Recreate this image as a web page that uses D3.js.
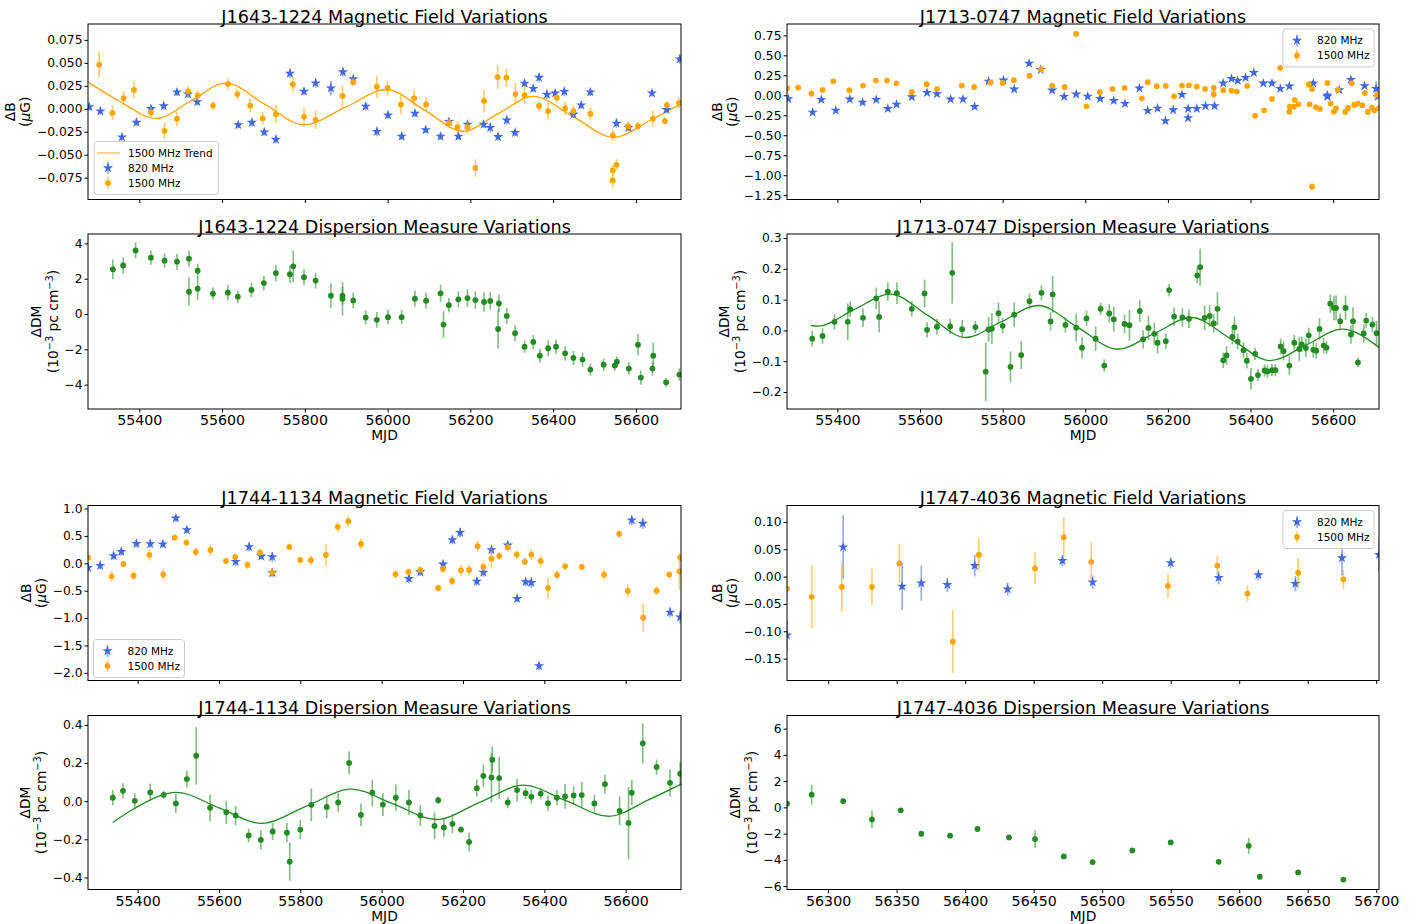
<!DOCTYPE html>
<html>
<head>
<meta charset="utf-8">
<script src="https://cdn.jsdelivr.net/npm/d3@7"></script>
<style>
  body { margin: 0; background: #fff; }
  text { font-family: "DejaVu Sans", sans-serif; }
</style>
</head>
<body>
<svg id="fig" width="1422" height="924"></svg>
<script>
// ---------- data: [MJD, value, error] ----------
const J1643_B820 = [[55279,0.002,0.004],[55306,-0.0025,0.004],[55358,-0.031,0.004],[55393,-0.015,0.004],[55428,0.000,0.004],[55459,0.003,0.004],[55491,0.018,0.004],[55518,0.016,0.004],[55540,0.0075,0.004],[55639,-0.0175,0.004],[55672,-0.015,0.004],[55702,-0.0255,0.004],[55730,-0.0335,0.004],[55764,0.0385,0.005],[55798,0.019,0.004],[55826,0.028,0.005],[55863,0.0225,0.008],[55892,0.040,0.005],[55917,0.0325,0.004],[55947,0.0025,0.004],[55974,-0.025,0.005],[56001,-0.007,0.004],[56034,-0.030,0.004],[56066,-0.005,0.004],[56092,-0.023,0.004],[56128,-0.030,0.004],[56148,-0.014,0.004],[56171,-0.030,0.004],[56193,-0.017,0.004],[56232,-0.017,0.004],[56248,-0.0205,0.005],[56267,-0.0305,0.004],[56288,-0.0125,0.005],[56308,-0.026,0.004],[56331,0.0277,0.004],[56352,0.022,0.004],[56366,0.034,0.005],[56385,0.0155,0.005],[56405,0.017,0.004],[56427,0.0187,0.005],[56449,-0.006,0.004],[56468,0.004,0.004],[56490,0.018,0.004],[56553,-0.016,0.005],[56582,-0.0205,0.004],[56639,0.017,0.004],[56674,-0.001,0.004],[56706,0.054,0.005]];
const J1643_B1500 = [[55303,0.048,0.014],[55335,-0.0045,0.008],[55362,0.0115,0.008],[55387,0.0205,0.009],[55428,-0.004,0.006],[55461,-0.024,0.009],[55491,-0.011,0.008],[55518,0.019,0.006],[55541,0.0145,0.006],[55578,0.0035,0.005],[55614,0.027,0.006],[55637,0.016,0.006],[55668,0.0035,0.007],[55698,-0.0105,0.007],[55730,-0.006,0.010],[55771,0.0265,0.008],[55798,-0.0085,0.010],[55826,-0.012,0.010],[55891,0.014,0.012],[55917,0.029,0.005],[55974,0.024,0.012],[56000,0.0227,0.008],[56032,0.0047,0.010],[56064,0.0115,0.009],[56093,0.0047,0.008],[56148,-0.0155,0.005],[56169,-0.020,0.006],[56193,-0.020,0.007],[56212,-0.0645,0.010],[56233,0.0086,0.012],[56266,0.0345,0.013],[56287,0.0338,0.010],[56309,0.016,0.012],[56331,0.0148,0.010],[56366,0.003,0.006],[56388,-0.0025,0.009],[56409,0.012,0.005],[56429,0.0004,0.007],[56449,-0.0025,0.006],[56490,-0.0054,0.007],[56544,-0.029,0.006],[56544,-0.067,0.006],[56544,-0.078,0.008],[56553,-0.061,0.006],[56581,-0.019,0.005],[56605,-0.019,0.005],[56641,-0.0108,0.009],[56670,-0.0133,0.004],[56675,0.004,0.004],[56704,0.0065,0.006]];
// 1500 MHz trend curve, sampled at its turning points and midpoints: [MJD, value]
const J1643_B1500_TREND = [[55276,0.029],[55349,0.009],[55441,-0.0105],[55526,0.009],[55609,0.028],[55703,0.005],[55798,-0.0175],[55898,0.0018],[55998,0.021],[56090,-0.0018],[56182,-0.0245],[56266,-0.0055],[56352,0.0135],[56449,-0.0088],[56546,-0.031],[56637,-0.012],[56708,0.005]];
const J1643_DM = [[55336,2.53,0.55],[55361,2.75,0.45],[55391,3.6,0.45],[55428,3.19,0.4],[55461,3.02,0.4],[55491,2.96,0.45],[55520,3.13,0.45],[55520,1.26,0.8],[55541,2.45,0.4],[55541,1.43,0.65],[55578,1.15,0.35],[55614,1.21,0.45],[55638,0.98,0.35],[55671,1.36,0.4],[55701,1.75,0.4],[55730,2.32,0.45],[55764,2.25,0.5],[55772,2.7,0.9],[55798,2.08,0.45],[55826,1.89,0.45],[55863,1.04,0.7],[55891,1.04,0.5],[55891,0.87,0.95],[55917,0.77,0.45],[55947,-0.2,0.4],[55974,-0.33,0.45],[56001,-0.18,0.4],[56034,-0.18,0.4],[56066,0.87,0.45],[56093,0.75,0.45],[56128,1.17,0.5],[56135,-0.6,0.75],[56148,0.5,0.4],[56171,0.83,0.45],[56193,0.9,0.5],[56212,0.79,0.5],[56233,0.68,0.55],[56248,0.74,0.5],[56269,0.6,0.5],[56267,-0.85,1.1],[56288,-0.11,0.45],[56308,-1.09,0.45],[56331,-1.85,0.35],[56352,-1.58,0.4],[56368,-2.36,0.4],[56388,-1.94,0.45],[56407,-1.85,0.4],[56429,-2.23,0.4],[56449,-2.49,0.4],[56471,-2.58,0.4],[56490,-3.15,0.35],[56522,-2.87,0.35],[56549,-2.92,0.3],[56554,-2.7,0.3],[56583,-3.09,0.35],[56605,-1.74,0.6],[56612,-3.6,0.4],[56640,-3.09,0.4],[56642,-2.36,0.75],[56673,-3.87,0.25],[56705,-3.43,0.35]];

const J1713_B820 = [[55281,-0.046,0.02],[55340,-0.213,0.03],[55361,-0.054,0.02],[55396,-0.188,0.02],[55430,-0.05,0.02],[55461,-0.088,0.02],[55494,-0.054,0.02],[55522,-0.167,0.03],[55543,-0.113,0.03],[55580,-0.021,0.02],[55617,0.033,0.02],[55641,0.017,0.02],[55674,-0.05,0.02],[55704,-0.05,0.02],[55732,-0.142,0.02],[55766,0.175,0.02],[55802,0.188,0.02],[55828,0.075,0.02],[55864,0.40,0.03],[55892,0.321,0.03],[55920,0.063,0.02],[55949,-0.017,0.02],[55978,0.013,0.02],[56006,-0.013,0.02],[56036,-0.042,0.02],[56069,-0.067,0.02],[56096,-0.104,0.02],[56131,0.088,0.02],[56151,-0.192,0.02],[56175,-0.163,0.02],[56194,-0.321,0.02],[56213,-0.184,0.02],[56234,0.008,0.02],[56249,-0.167,0.02],[56249,-0.284,0.03],[56270,-0.167,0.02],[56291,-0.134,0.02],[56313,-0.134,0.02],[56334,0.150,0.02],[56354,0.209,0.02],[56369,0.184,0.02],[56388,0.221,0.02],[56408,0.284,0.02],[56431,0.150,0.02],[56452,0.150,0.02],[56472,0.083,0.02],[56494,0.113,0.02],[56552,0.150,0.02],[56586,0.000,0.02],[56586,-0.017,0.02],[56615,0.067,0.02],[56643,0.196,0.02],[56676,0.117,0.02],[56704,0.083,0.1],[56708,-0.017,0.02]];
const J1713_B1500 = [[55278,0.088,0.015],[55305,0.096,0.015],[55337,0.021,0.05],[55364,0.067,0.02],[55390,0.175,0.015],[55429,0.063,0.02],[55462,0.121,0.02],[55493,0.184,0.015],[55520,0.184,0.015],[55543,0.150,0.015],[55580,0.038,0.02],[55616,0.138,0.015],[55641,0.079,0.02],[55701,0.121,0.015],[55731,0.104,0.015],[55771,0.159,0.015],[55800,0.154,0.015],[55827,0.188,0.015],[55865,0.246,0.015],[55893,0.326,0.015],[55920,0.121,0.015],[55950,0.104,0.015],[55978,0.768,0.015],[56003,-0.138,0.015],[56035,0.038,0.02],[56066,0.079,0.015],[56095,0.092,0.015],[56137,-0.038,0.015],[56151,0.163,0.015],[56173,0.113,0.015],[56195,0.117,0.015],[56215,-0.013,0.02],[56234,0.121,0.015],[56251,0.125,0.015],[56270,0.108,0.015],[56290,0.079,0.015],[56311,0.092,0.015],[56311,0.013,0.05],[56334,0.063,0.015],[56354,0.058,0.015],[56367,0.046,0.015],[56392,0.117,0.015],[56411,-0.255,0.015],[56433,-0.188,0.015],[56452,-0.046,0.015],[56472,0.342,0.015],[56494,-0.205,0.02],[56495,-0.142,0.015],[56505,-0.142,0.015],[56507,-0.058,0.015],[56516,-0.113,0.015],[56541,0.134,0.015],[56543,-0.113,0.015],[56549,0.079,0.015],[56549,-1.144,0.04],[56558,-0.15,0.015],[56568,-0.171,0.015],[56586,0.154,0.015],[56594,-0.104,0.015],[56602,-0.205,0.015],[56607,-0.163,0.015],[56611,0.067,0.015],[56629,-0.209,0.015],[56636,-0.159,0.015],[56645,0.150,0.015],[56651,-0.121,0.015],[56660,-0.104,0.015],[56671,-0.125,0.015],[56677,0.029,0.015],[56684,-0.209,0.015],[56694,-0.154,0.015],[56700,-0.188,0.015],[56706,0.004,0.015],[56711,-0.163,0.015]];
const J1713_DM = [[55339,-0.027,0.025],[55364,-0.018,0.025],[55393,0.028,0.025],[55425,0.028,0.06],[55431,0.069,0.025],[55462,0.041,0.03],[55494,0.104,0.035],[55501,0.044,0.05],[55522,0.126,0.03],[55544,0.121,0.035],[55580,0.070,0.025],[55611,0.120,0.045],[55617,0.002,0.025],[55641,0.012,0.025],[55673,0.013,0.025],[55678,0.187,0.1],[55702,0.004,0.03],[55734,0.011,0.02],[55759,-0.134,0.095],[55766,0.003,0.04],[55774,0.006,0.05],[55790,0.056,0.035],[55800,0.015,0.025],[55819,-0.118,0.05],[55828,0.051,0.04],[55845,-0.080,0.045],[55865,0.095,0.025],[55894,0.122,0.025],[55916,0.029,0.03],[55921,0.117,0.06],[55952,0.018,0.025],[55978,0.009,0.045],[55992,-0.056,0.035],[56003,0.039,0.025],[56025,-0.027,0.04],[56037,0.070,0.02],[56046,-0.114,0.02],[56058,0.055,0.03],[56069,0.036,0.04],[56095,0.021,0.03],[56107,0.017,0.05],[56132,0.063,0.035],[56140,-0.029,0.03],[56153,0.008,0.04],[56167,-0.011,0.035],[56175,-0.040,0.035],[56195,-0.035,0.025],[56203,0.131,0.02],[56215,0.045,0.03],[56235,0.042,0.03],[56251,0.038,0.03],[56271,0.179,0.025],[56278,0.205,0.06],[56289,0.041,0.04],[56301,0.047,0.035],[56311,0.023,0.03],[56320,0.070,0.055],[56334,-0.097,0.025],[56342,-0.081,0.03],[56356,-0.021,0.025],[56361,0.010,0.035],[56369,-0.036,0.025],[56383,-0.064,0.025],[56391,-0.098,0.025],[56401,-0.157,0.035],[56411,-0.076,0.02],[56418,-0.145,0.02],[56434,-0.130,0.02],[56441,-0.133,0.02],[56452,-0.129,0.02],[56460,-0.129,0.02],[56473,-0.052,0.025],[56480,-0.067,0.03],[56494,-0.114,0.03],[56506,-0.040,0.025],[56518,-0.060,0.04],[56524,-0.045,0.025],[56534,-0.057,0.03],[56541,-0.016,0.025],[56552,-0.063,0.025],[56559,-0.066,0.025],[56567,0.005,0.035],[56577,-0.049,0.025],[56584,-0.056,0.02],[56593,0.087,0.03],[56602,0.073,0.04],[56607,0.073,0.04],[56617,0.030,0.025],[56630,0.073,0.04],[56643,-0.013,0.03],[56648,0.030,0.045],[56660,-0.104,0.015],[56674,-0.010,0.03],[56680,0.032,0.025],[56695,0.019,0.025],[56705,-0.009,0.04]];
const J1713_DM_TREND = [[55336,0.016],[55354,0.014],[55438,0.066],[55528,0.118],[55620,0.048],[55710,-0.023],[55798,0.029],[55886,0.081],[55982,0.010],[56078,-0.061],[56167,-0.010],[56257,0.042],[56353,-0.028],[56448,-0.098],[56535,-0.047],[56622,0.004],[56711,-0.055]];

const J1744_B820 = [[55278,-0.079,0.07],[55308,-0.043,0.07],[55341,0.134,0.07],[55360,0.213,0.08],[55397,0.360,0.07],[55431,0.354,0.07],[55462,0.348,0.07],[55494,0.823,0.06],[55521,0.610,0.06],[55641,0.030,0.08],[55674,0.299,0.08],[55704,0.128,0.06],[55731,0.116,0.09],[55731,-0.177,0.08],[56067,-0.281,0.08],[56095,-0.159,0.07],[56151,-0.018,0.07],[56174,0.427,0.08],[56193,0.561,0.09],[56234,-0.329,0.08],[56250,-0.165,0.08],[56270,0.244,0.07],[56310,0.329,0.08],[56333,-0.646,0.07],[56354,-0.341,0.08],[56368,-0.354,0.1],[56387,-1.872,0.08],[56615,0.787,0.09],[56642,0.726,0.1],[56709,-0.896,0.09],[56734,-0.982,0.12]];
const J1744_B1500 = [[55278,0.104,0.06],[55336,-0.238,0.1],[55365,-0.012,0.06],[55390,-0.226,0.08],[55429,0.152,0.1],[55463,-0.201,0.1],[55491,0.470,0.06],[55520,0.378,0.06],[55543,0.207,0.08],[55579,0.244,0.1],[55617,0.043,0.06],[55640,0.116,0.06],[55670,-0.030,0.07],[55701,0.195,0.06],[55731,-0.165,0.07],[55773,0.299,0.06],[55800,0.061,0.06],[55826,0.055,0.09],[55863,0.152,0.2],[55892,0.665,0.1],[55918,0.768,0.1],[55949,0.354,0.1],[56034,-0.201,0.08],[56066,-0.159,0.07],[56095,-0.122,0.06],[56139,-0.451,0.06],[56151,-0.104,0.07],[56173,-0.323,0.08],[56195,-0.128,0.1],[56215,-0.122,0.1],[56236,0.311,0.1],[56250,-0.067,0.1],[56270,0.085,0.18],[56289,0.134,0.07],[56310,0.293,0.07],[56332,0.159,0.08],[56352,0.030,0.07],[56368,0.159,0.1],[56391,0.043,0.1],[56409,-0.451,0.2],[56431,-0.213,0.08],[56451,-0.055,0.06],[56492,-0.067,0.06],[56547,-0.207,0.1],[56584,0.537,0.07],[56605,-0.506,0.12],[56643,-0.994,0.25],[56676,-0.500,0.08],[56707,-0.207,0.06],[56732,-0.152,0.33],[56734,0.104,0.06]];
const J1744_DM = [[55339,0.018,0.04],[55364,0.054,0.04],[55393,0.002,0.04],[55431,0.046,0.045],[55464,0.033,0.02],[55494,-0.012,0.05],[55521,0.116,0.045],[55544,0.238,0.15],[55578,-0.035,0.07],[55618,-0.058,0.06],[55641,-0.075,0.05],[55673,-0.180,0.035],[55703,-0.203,0.05],[55732,-0.159,0.045],[55767,-0.165,0.05],[55774,-0.317,0.1],[55800,-0.149,0.05],[55827,-0.019,0.085],[55865,-0.030,0.06],[55893,-0.007,0.05],[55920,0.200,0.06],[55949,-0.072,0.06],[55977,0.044,0.07],[56003,-0.018,0.06],[56035,0.018,0.07],[56067,-0.007,0.065],[56095,-0.075,0.055],[56130,-0.130,0.07],[56139,0.005,0.02],[56153,-0.138,0.05],[56174,-0.119,0.05],[56195,-0.149,0.015],[56215,-0.214,0.05],[56234,0.068,0.045],[56250,0.133,0.06],[56270,0.124,0.13],[56272,0.217,0.07],[56289,0.121,0.11],[56310,-0.007,0.03],[56333,0.058,0.06],[56354,0.042,0.03],[56368,0.023,0.035],[56391,0.040,0.03],[56409,-0.011,0.04],[56431,0.018,0.04],[56451,0.025,0.065],[56472,0.030,0.05],[56492,0.032,0.07],[56523,-0.012,0.045],[56549,0.089,0.05],[56585,-0.051,0.075],[56607,-0.114,0.19],[56615,0.044,0.065],[56642,0.303,0.105],[56676,0.179,0.04],[56709,0.096,0.07],[56734,0.144,0.06]];
const J1744_DM_TREND = [[55339,-0.112],[55391,-0.04],[55496,0.046],[55600,-0.035],[55705,-0.116],[55815,-0.026],[55925,0.063],[56030,-0.016],[56134,-0.096],[56241,-0.006],[56349,0.084],[56453,0.0025],[56558,-0.079],[56657,0.008],[56736,0.089]];

const J1747_B820 = [[56270,-0.107,0.028],[56311,0.054,0.058],[56354,-0.018,0.043],[56368,-0.012,0.032],[56387,-0.015,0.013],[56407,0.020,0.02],[56431,-0.023,0.012],[56471,0.029,0.01],[56493,-0.010,0.012],[56550,0.025,0.01],[56585,-0.002,0.012],[56614,0.003,0.01],[56641,-0.013,0.014],[56675,0.034,0.032],[56702,0.040,0.03]];
const J1747_B1500 = [[56270,-0.022,0.02],[56288,-0.037,0.058],[56310,-0.019,0.045],[56332,-0.019,0.033],[56352,0.024,0.036],[56391,-0.119,0.057],[56410,0.040,0.029],[56451,0.015,0.029],[56472,0.072,0.037],[56492,0.027,0.036],[56548,-0.017,0.022],[56584,0.020,0.017],[56606,-0.031,0.015],[56643,0.007,0.027],[56676,-0.005,0.017]];
const J1747_DM = [[56270,0.28,0.25],[56288,0.97,0.75],[56311,0.48,0.2],[56332,-0.92,0.65],[56353,-0.23,0.15],[56368,-2.01,0.15],[56389,-2.16,0.15],[56409,-1.65,0.15],[56432,-2.29,0.15],[56451,-2.42,0.65],[56472,-3.74,0.15],[56493,-4.17,0.15],[56522,-3.28,0.15],[56550,-2.67,0.15],[56585,-4.15,0.15],[56607,-2.93,0.6],[56615,-5.29,0.15],[56643,-4.96,0.15],[56676,-5.5,0.15]];

// ---------- ticks ----------
const MJD_TICKS_WIDE = [55400, 55600, 55800, 56000, 56200, 56400, 56600];
const MJD_TICKS_J1747 = [56300, 56350, 56400, 56450, 56500, 56550, 56600, 56650, 56700];
const TICKS_J1643_B = [-0.075, -0.05, -0.025, 0, 0.025, 0.05, 0.075];
const TICKS_J1643_DM = [-4, -2, 0, 2, 4];
const TICKS_J1713_B = [-1.25, -1.0, -0.75, -0.5, -0.25, 0, 0.25, 0.5, 0.75];
const TICKS_J1713_DM = [-0.2, -0.1, 0, 0.1, 0.2, 0.3];
const TICKS_J1744_B = [-2.0, -1.5, -1.0, -0.5, 0, 0.5, 1.0];
const TICKS_J1744_DM = [-0.4, -0.2, 0, 0.2, 0.4];
const TICKS_J1747_B = [-0.15, -0.1, -0.05, 0, 0.05, 0.1];
const TICKS_J1747_DM = [-6, -4, -2, 0, 2, 4, 6];

// ---------- styling ----------
const BLUE = "#4169e1", ORANGE = "#ffa500", GREEN = "#228b22";
const XTICK_FONT = 14.2, YTICK_FONT = 12.3, TITLE_FONT = 17.6, LABEL_FONT = 13.8, LEGEND_FONT = 10.5;
const STAR_SIZE = 33, DOT_R = 2.9;

const svg = d3.select("#fig");
let clipCount = 0;

function marker(sel, type, color, cx, cy) {
  if (type === "star") {
    sel.append("path").attr("d", d3.symbol(d3.symbolStar, STAR_SIZE)())
      .attr("transform", `translate(${cx},${cy})`).attr("fill", color);
  } else {
    sel.append("circle").attr("cx", cx).attr("cy", cy).attr("r", DOT_R).attr("fill", color);
  }
}

function drawPanel(p) {
  const g = svg.append("g");
  const x = d3.scaleLinear().domain(p.xDomain).range([p.left, p.right]);
  const y = d3.scaleLinear().domain(p.yDomain).range([p.bottom, p.top]);

  const cid = "clip" + (clipCount++);
  g.append("clipPath").attr("id", cid).append("rect")
    .attr("x", p.left).attr("y", p.top)
    .attr("width", p.right - p.left).attr("height", p.bottom - p.top);
  const plot = g.append("g").attr("clip-path", `url(#${cid})`);

  (p.trends || []).forEach(t => {
    plot.append("path").datum(t.data)
      .attr("fill", "none").attr("stroke", t.color).attr("stroke-width", 1.3)
      .attr("d", d3.line().x(d => x(d[0])).y(d => y(d[1])).curve(d3.curveMonotoneX));
  });

  p.series.forEach(s => {
    plot.append("g").selectAll("line").data(s.data).join("line")
      .attr("x1", d => x(d[0])).attr("x2", d => x(d[0]))
      .attr("y1", d => y(d[1] - d[2])).attr("y2", d => y(d[1] + d[2]))
      .attr("stroke", s.color).attr("stroke-width", 1.7).attr("stroke-opacity", 0.55);
    const mg = plot.append("g");
    s.data.forEach(d => marker(mg, s.type, s.color, x(d[0]), y(d[1])));
  });

  // axes
  const xAxis = d3.axisBottom(x).tickValues(p.xTicks).tickSize(3.5).tickPadding(2.5)
    .tickFormat(p.xLabels ? d3.format("d") : () => "");
  const gx = g.append("g").attr("transform", `translate(0,${p.bottom})`).call(xAxis);
  const yAxis = d3.axisLeft(y).tickValues(p.yTicks).tickSize(3.5).tickPadding(2)
    .tickFormat(d3.format(p.yFmt));
  const gy = g.append("g").attr("transform", `translate(${p.left},0)`).call(yAxis);
  [gx, gy].forEach((a, i) => {
    a.select(".domain").remove();
    a.selectAll(".tick line").attr("stroke", "#000").attr("stroke-width", 1);
    a.selectAll(".tick text").attr("font-size", i === 0 ? XTICK_FONT : YTICK_FONT)
      .attr("font-family", "DejaVu Sans").attr("fill", "#000");
  });

  g.append("rect").attr("x", p.left).attr("y", p.top)
    .attr("width", p.right - p.left).attr("height", p.bottom - p.top)
    .attr("fill", "none").attr("stroke", "#000").attr("stroke-width", 1);

  g.append("text").attr("x", (p.left + p.right) / 2).attr("y", p.top - 1.2)
    .attr("text-anchor", "middle").attr("font-size", TITLE_FONT).text(p.title);

  // y label (two lines), placed just left of the tick labels
  const tickLeft = p.left + gy.node().getBBox().x;
  const cy = (p.top + p.bottom) / 2;
  const base2 = tickLeft - 6.5;
  const base1 = base2 - (p.kind === "B" ? 15.3 : 16.5);
  g.append("text").attr("transform", `translate(${base1},${cy}) rotate(-90)`)
    .attr("text-anchor", "middle").attr("font-size", LABEL_FONT)
    .text(p.kind === "B" ? "ΔB" : "ΔDM");
  const l2 = g.append("text").attr("transform", `translate(${base2},${cy}) rotate(-90)`)
    .attr("text-anchor", "middle").attr("font-size", LABEL_FONT);
  if (p.kind === "B") {
    l2.append("tspan").text("(");
    l2.append("tspan").attr("font-style", "italic").text("μ");
    l2.append("tspan").text("G)");
  } else {
    l2.append("tspan").text("(10");
    l2.append("tspan").attr("dy", -5).attr("font-size", 9.8).text("−3");
    l2.append("tspan").attr("dy", 5).text(" pc cm");
    l2.append("tspan").attr("dy", -5).attr("font-size", 9.8).text("−3");
    l2.append("tspan").attr("dy", 5).text(")");
  }

  if (p.xLabels) {
    g.append("text").attr("x", (p.left + p.right) / 2).attr("y", p.bottom + 31)
      .attr("text-anchor", "middle").attr("font-size", LABEL_FONT).text("MJD");
  }

  if (p.legend) {
    const L = p.legend;
    const lg = g.append("g");
    const h = 8 + L.items.length * 15;
    lg.append("rect").attr("x", L.x).attr("y", L.y).attr("width", L.w).attr("height", h)
      .attr("rx", 3).attr("fill", "#fff").attr("fill-opacity", 0.8)
      .attr("stroke", "#cccccc").attr("stroke-width", 1);
    L.items.forEach((it, i) => {
      const yy = L.y + 11.5 + i * 15;
      const mx = L.x + 14;
      if (it.type === "line") {
        lg.append("line").attr("x1", L.x + 3).attr("x2", L.x + 26).attr("y1", yy).attr("y2", yy)
          .attr("stroke", it.color).attr("stroke-width", 1.3).attr("stroke-opacity", 0.75);
      } else {
        lg.append("line").attr("x1", mx).attr("x2", mx).attr("y1", yy - 6).attr("y2", yy + 6)
          .attr("stroke", it.color).attr("stroke-width", 1.7).attr("stroke-opacity", 0.55);
        marker(lg, it.type, it.color, mx, yy);
      }
      lg.append("text").attr("x", L.x + 34).attr("y", yy).attr("dy", "0.36em")
        .attr("font-size", LEGEND_FONT).text(it.label);
    });
  }
}

const LEFT = [88, 681], RIGHT = [787, 1379];
const ROW = [[24, 199.5], [234, 409], [505.5, 680.5], [715.5, 889.5]];
const legendTwo = [{type: "star", color: BLUE, label: "820 MHz"}, {type: "dot", color: ORANGE, label: "1500 MHz"}];

const panels = [
  { title: "J1643-1224 Magnetic Field Variations", kind: "B", left: LEFT[0], right: LEFT[1], top: ROW[0][0], bottom: ROW[0][1],
    xDomain: [55276, 56709], yDomain: [-0.0988, 0.0923], xTicks: MJD_TICKS_WIDE, yTicks: TICKS_J1643_B, yFmt: ".3f", xLabels: false,
    series: [{type: "star", color: BLUE, data: J1643_B820}, {type: "dot", color: ORANGE, data: J1643_B1500}],
    trends: [{color: ORANGE, data: J1643_B1500_TREND}],
    legend: {x: 94, y: 141.5, w: 124.5, items: [{type: "line", color: ORANGE, label: "1500 MHz Trend"}].concat(legendTwo)} },
  { title: "J1643-1224 Dispersion Measure Variations", kind: "DM", left: LEFT[0], right: LEFT[1], top: ROW[1][0], bottom: ROW[1][1],
    xDomain: [55276, 56709], yDomain: [-5.38, 4.53], xTicks: MJD_TICKS_WIDE, yTicks: TICKS_J1643_DM, yFmt: "d", xLabels: true,
    series: [{type: "dot", color: GREEN, data: J1643_DM}] },
  { title: "J1713-0747 Magnetic Field Variations", kind: "B", left: RIGHT[0], right: RIGHT[1], top: ROW[0][0], bottom: ROW[0][1],
    xDomain: [55278, 56711], yDomain: [-1.304, 0.892], xTicks: MJD_TICKS_WIDE, yTicks: TICKS_J1713_B, yFmt: ".2f", xLabels: false,
    series: [{type: "star", color: BLUE, data: J1713_B820}, {type: "dot", color: ORANGE, data: J1713_B1500}],
    legend: {x: 1283, y: 29, w: 91, items: legendTwo} },
  { title: "J1713-0747 Dispersion Measure Variations", kind: "DM", left: RIGHT[0], right: RIGHT[1], top: ROW[1][0], bottom: ROW[1][1],
    xDomain: [55278, 56711], yDomain: [-0.255, 0.313], xTicks: MJD_TICKS_WIDE, yTicks: TICKS_J1713_DM, yFmt: ".1f", xLabels: true,
    series: [{type: "dot", color: GREEN, data: J1713_DM}],
    trends: [{color: GREEN, data: J1713_DM_TREND}] },
  { title: "J1744-1134 Magnetic Field Variations", kind: "B", left: LEFT[0], right: LEFT[1], top: ROW[2][0], bottom: ROW[2][1],
    xDomain: [55278, 56736], yDomain: [-2.14, 1.055], xTicks: MJD_TICKS_WIDE, yTicks: TICKS_J1744_B, yFmt: ".1f", xLabels: false,
    series: [{type: "star", color: BLUE, data: J1744_B820}, {type: "dot", color: ORANGE, data: J1744_B1500}],
    legend: {x: 93.5, y: 639.5, w: 91, items: legendTwo} },
  { title: "J1744-1134 Dispersion Measure Variations", kind: "DM", left: LEFT[0], right: LEFT[1], top: ROW[3][0], bottom: ROW[3][1],
    xDomain: [55278, 56736], yDomain: [-0.463, 0.449], xTicks: MJD_TICKS_WIDE, yTicks: TICKS_J1744_DM, yFmt: ".1f", xLabels: true,
    series: [{type: "dot", color: GREEN, data: J1744_DM}],
    trends: [{color: GREEN, data: J1744_DM_TREND}] },
  { title: "J1747-4036 Magnetic Field Variations", kind: "B", left: RIGHT[0], right: RIGHT[1], top: ROW[2][0], bottom: ROW[2][1],
    xDomain: [56270, 56702], yDomain: [-0.190, 0.130], xTicks: MJD_TICKS_J1747, yTicks: TICKS_J1747_B, yFmt: ".2f", xLabels: false,
    series: [{type: "star", color: BLUE, data: J1747_B820}, {type: "dot", color: ORANGE, data: J1747_B1500}],
    legend: {x: 1283, y: 510.5, w: 91, items: legendTwo} },
  { title: "J1747-4036 Dispersion Measure Variations", kind: "DM", left: RIGHT[0], right: RIGHT[1], top: ROW[3][0], bottom: ROW[3][1],
    xDomain: [56270, 56702], yDomain: [-6.26, 7.0], xTicks: MJD_TICKS_J1747, yTicks: TICKS_J1747_DM, yFmt: "d", xLabels: true,
    series: [{type: "dot", color: GREEN, data: J1747_DM}] }
];

panels.forEach(drawPanel);
</script>
</body>
</html>
